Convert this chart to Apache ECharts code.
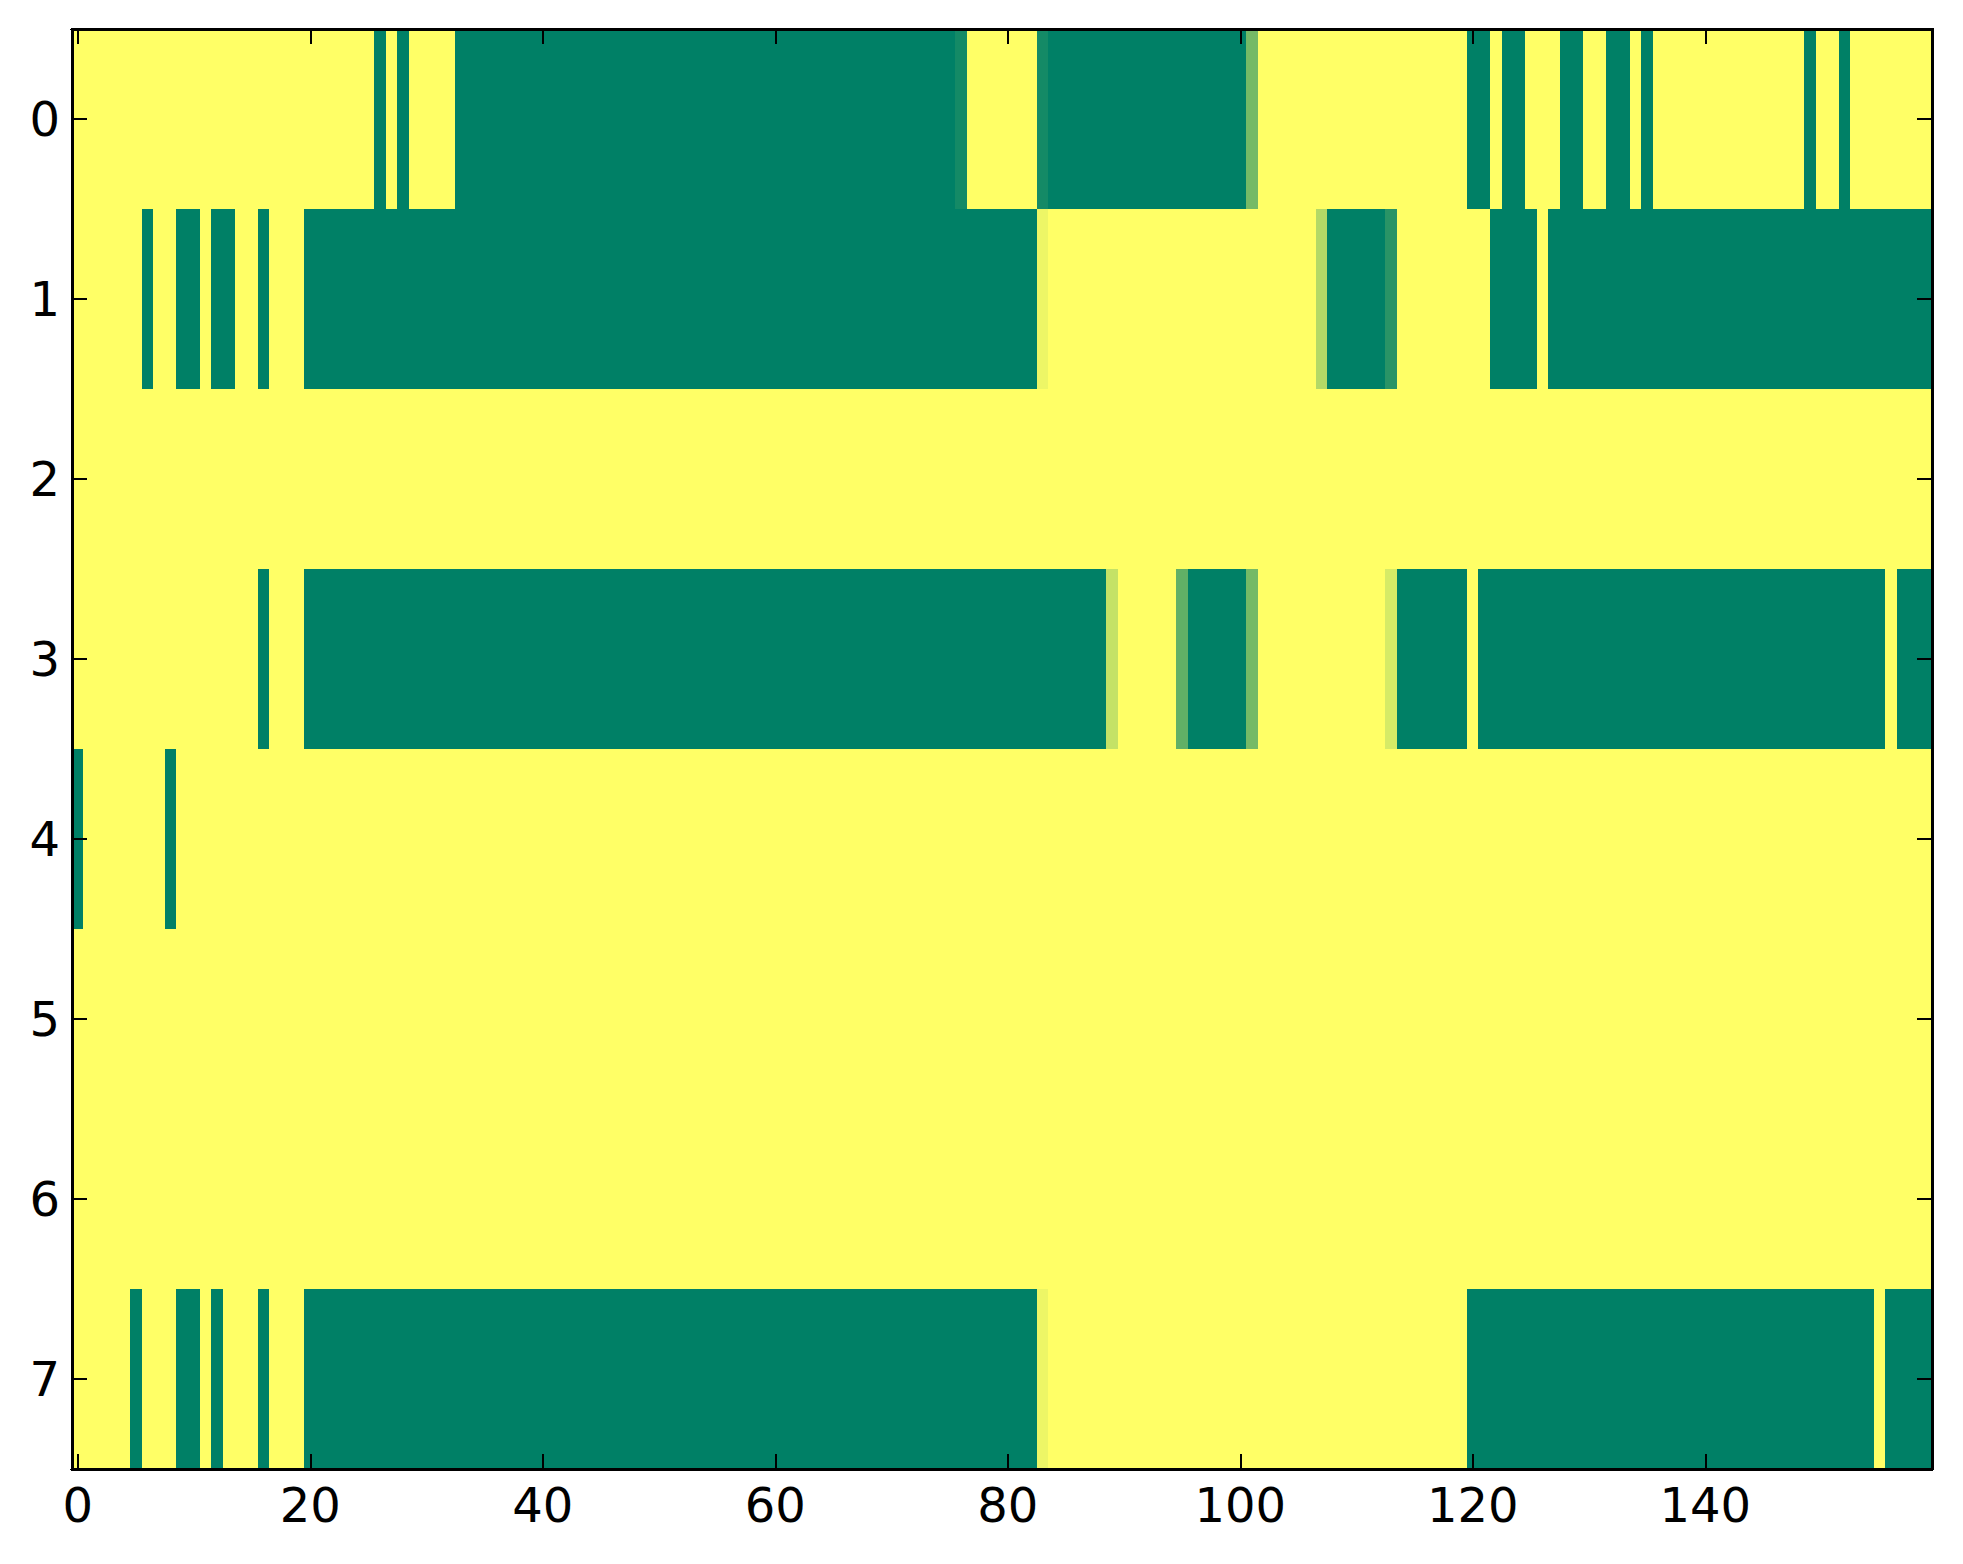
<!DOCTYPE html>
<html>
<head>
<meta charset="utf-8">
<script src="https://cdn.jsdelivr.net/npm/echarts@6/dist/echarts.min.js"></script>
<style>
html,body{margin:0;padding:0;background:#fff;}
#chart{width:1963px;height:1564px;}
#chart svg path{shape-rendering:crispEdges;}
</style>
</head>
<body>
<div id="chart"></div>
<script>
// Row labels (y) and column count (x)
const rowLabels = ['0','1','2','3','4','5','6','7'];
const colLabels = [];
for (let i = 0; i < 160; i++) colLabels.push(String(i));

// Cell values per row (0 = yellow, 1 = green), 160 columns each
const row0 = [
  0,0,0,0,0,0,0,0,0,0,0,0,0,0,0,0,0,0,0,0,
  0,0,0,0,0,0,1,0,1,0,0,0,0,1,1,1,1,1,1,1,
  1,1,1,1,1,1,1,1,1,1,1,1,1,1,1,1,1,1,1,1,
  1,1,1,1,1,1,1,1,1,1,1,1,1,1,1,1,0.92,0,0,0,
  0,0,0,0.92,1,1,1,1,1,1,1,1,1,1,1,1,1,1,1,1,
  1,0.54,0,0,0,0,0,0,0,0,0,0,0,0,0,0,0,0,0,0,
  1,1,0,1,1,0,0,0,1,1,0,0,1,1,0,1,0,0,0,0,
  0,0,0,0,0,0,0,0,0,1,0,0,1,0,0,0,0,0,0,0
];
const row1 = [
  0,0,0,0,0,0,1,0,0,1,1,0,1,1,0,0,1,0,0,0,
  1,1,1,1,1,1,1,1,1,1,1,1,1,1,1,1,1,1,1,1,
  1,1,1,1,1,1,1,1,1,1,1,1,1,1,1,1,1,1,1,1,
  1,1,1,1,1,1,1,1,1,1,1,1,1,1,1,1,1,1,1,1,
  1,1,1,0.07,0,0,0,0,0,0,0,0,0,0,0,0,0,0,0,0,
  0,0,0,0,0,0,0,0.30,1,1,1,1,1,0.84,0,0,0,0,0,0,
  0,0,1,1,1,1,0,1,1,1,1,1,1,1,1,1,1,1,1,1,
  1,1,1,1,1,1,1,1,1,1,1,1,1,1,1,1,1,1,1,1
];
const row2 = [
  0,0,0,0,0,0,0,0,0,0,0,0,0,0,0,0,0,0,0,0,
  0,0,0,0,0,0,0,0,0,0,0,0,0,0,0,0,0,0,0,0,
  0,0,0,0,0,0,0,0,0,0,0,0,0,0,0,0,0,0,0,0,
  0,0,0,0,0,0,0,0,0,0,0,0,0,0,0,0,0,0,0,0,
  0,0,0,0,0,0,0,0,0,0,0,0,0,0,0,0,0,0,0,0,
  0,0,0,0,0,0,0,0,0,0,0,0,0,0,0,0,0,0,0,0,
  0,0,0,0,0,0,0,0,0,0,0,0,0,0,0,0,0,0,0,0,
  0,0,0,0,0,0,0,0,0,0,0,0,0,0,0,0,0,0,0,0
];
const row3 = [
  0,0,0,0,0,0,0,0,0,0,0,0,0,0,0,0,1,0,0,0,
  1,1,1,1,1,1,1,1,1,1,1,1,1,1,1,1,1,1,1,1,
  1,1,1,1,1,1,1,1,1,1,1,1,1,1,1,1,1,1,1,1,
  1,1,1,1,1,1,1,1,1,1,1,1,1,1,1,1,1,1,1,1,
  1,1,1,1,1,1,1,1,1,0.23,0,0,0,0,0,0.62,1,1,1,1,
  1,0.54,0,0,0,0,0,0,0,0,0,0,0,0.16,1,1,1,1,1,1,
  0,1,1,1,1,1,1,1,1,1,1,1,1,1,1,1,1,1,1,1,
  1,1,1,1,1,1,1,1,1,1,1,1,1,1,1,1,0,1,1,1
];
const row4 = [
  1,0,0,0,0,0,0,0,1,0,0,0,0,0,0,0,0,0,0,0,
  0,0,0,0,0,0,0,0,0,0,0,0,0,0,0,0,0,0,0,0,
  0,0,0,0,0,0,0,0,0,0,0,0,0,0,0,0,0,0,0,0,
  0,0,0,0,0,0,0,0,0,0,0,0,0,0,0,0,0,0,0,0,
  0,0,0,0,0,0,0,0,0,0,0,0,0,0,0,0,0,0,0,0,
  0,0,0,0,0,0,0,0,0,0,0,0,0,0,0,0,0,0,0,0,
  0,0,0,0,0,0,0,0,0,0,0,0,0,0,0,0,0,0,0,0,
  0,0,0,0,0,0,0,0,0,0,0,0,0,0,0,0,0,0,0,0
];
const row5 = [
  0,0,0,0,0,0,0,0,0,0,0,0,0,0,0,0,0,0,0,0,
  0,0,0,0,0,0,0,0,0,0,0,0,0,0,0,0,0,0,0,0,
  0,0,0,0,0,0,0,0,0,0,0,0,0,0,0,0,0,0,0,0,
  0,0,0,0,0,0,0,0,0,0,0,0,0,0,0,0,0,0,0,0,
  0,0,0,0,0,0,0,0,0,0,0,0,0,0,0,0,0,0,0,0,
  0,0,0,0,0,0,0,0,0,0,0,0,0,0,0,0,0,0,0,0,
  0,0,0,0,0,0,0,0,0,0,0,0,0,0,0,0,0,0,0,0,
  0,0,0,0,0,0,0,0,0,0,0,0,0,0,0,0,0,0,0,0
];
const row6 = [
  0,0,0,0,0,0,0,0,0,0,0,0,0,0,0,0,0,0,0,0,
  0,0,0,0,0,0,0,0,0,0,0,0,0,0,0,0,0,0,0,0,
  0,0,0,0,0,0,0,0,0,0,0,0,0,0,0,0,0,0,0,0,
  0,0,0,0,0,0,0,0,0,0,0,0,0,0,0,0,0,0,0,0,
  0,0,0,0,0,0,0,0,0,0,0,0,0,0,0,0,0,0,0,0,
  0,0,0,0,0,0,0,0,0,0,0,0,0,0,0,0,0,0,0,0,
  0,0,0,0,0,0,0,0,0,0,0,0,0,0,0,0,0,0,0,0,
  0,0,0,0,0,0,0,0,0,0,0,0,0,0,0,0,0,0,0,0
];
const row7 = [
  0,0,0,0,0,1,0,0,0,1,1,0,1,0,0,0,1,0,0,0,
  1,1,1,1,1,1,1,1,1,1,1,1,1,1,1,1,1,1,1,1,
  1,1,1,1,1,1,1,1,1,1,1,1,1,1,1,1,1,1,1,1,
  1,1,1,1,1,1,1,1,1,1,1,1,1,1,1,1,1,1,1,1,
  1,1,1,0.07,0,0,0,0,0,0,0,0,0,0,0,0,0,0,0,0,
  0,0,0,0,0,0,0,0,0,0,0,0,0,0,0,0,0,0,0,0,
  1,1,1,1,1,1,1,1,1,1,1,1,1,1,1,1,1,1,1,1,
  1,1,1,1,1,1,1,1,1,1,1,1,1,1,1,0,1,1,1,1
];
const rows = [row0, row1, row2, row3, row4, row5, row6, row7];

const heatData = [];
rows.forEach((r, yi) => r.forEach((v, xi) => heatData.push([xi, yi, v])));

const chart = echarts.init(document.getElementById('chart'), null, {renderer: 'svg'});
const FONT = 'DejaVu Sans';
const lineStyle = {color: '#000', width: 3};
const tickStyle = {color: '#000', width: 2};
const showTickEvery = (i) => i % 20 === 0;

chart.setOption({
  backgroundColor: '#ffffff',
  animation: false,
  grid: {left: 72, top: 29, width: 1860, height: 1440, containLabel: false},
  visualMap: {
    show: false, type: 'continuous', min: 0, max: 1, dimension: 2,
    inRange: {color: ['#ffff66', '#008066']}
  },
  xAxis: [
    {
      type: 'category', data: colLabels, position: 'bottom', z: 10,
      axisLine: {show: true, lineStyle: lineStyle, onZero: false},
      axisTick: {show: true, inside: true, length: 15, alignWithLabel: true, interval: showTickEvery, lineStyle: tickStyle},
      axisLabel: {show: true, interval: showTickEvery, margin: 12, fontFamily: FONT, fontSize: 48, color: '#000'},
      splitLine: {show: false}
    },
    {
      type: 'category', data: colLabels, position: 'top', z: 10,
      axisLine: {show: true, lineStyle: lineStyle, onZero: false},
      axisTick: {show: true, inside: true, length: 15, alignWithLabel: true, interval: showTickEvery, lineStyle: tickStyle},
      axisLabel: {show: false},
      splitLine: {show: false}
    }
  ],
  yAxis: [
    {
      type: 'category', data: rowLabels, inverse: true, position: 'left', z: 10,
      axisLine: {show: true, lineStyle: lineStyle, onZero: false},
      axisTick: {show: true, inside: true, length: 15, alignWithLabel: true, lineStyle: tickStyle},
      axisLabel: {show: true, margin: 12, fontFamily: FONT, fontSize: 48, color: '#000'},
      splitLine: {show: false}
    },
    {
      type: 'category', data: rowLabels, inverse: true, position: 'right', z: 10,
      axisLine: {show: true, lineStyle: lineStyle, onZero: false},
      axisTick: {show: true, inside: true, length: 15, alignWithLabel: true, lineStyle: tickStyle},
      axisLabel: {show: false},
      splitLine: {show: false}
    }
  ],
  series: [{
    type: 'heatmap', xAxisIndex: 0, yAxisIndex: 0,
    data: heatData,
    itemStyle: {borderWidth: 0},
    emphasis: {disabled: true},
    progressive: 0
  }]
});
</script>
</body>
</html>
